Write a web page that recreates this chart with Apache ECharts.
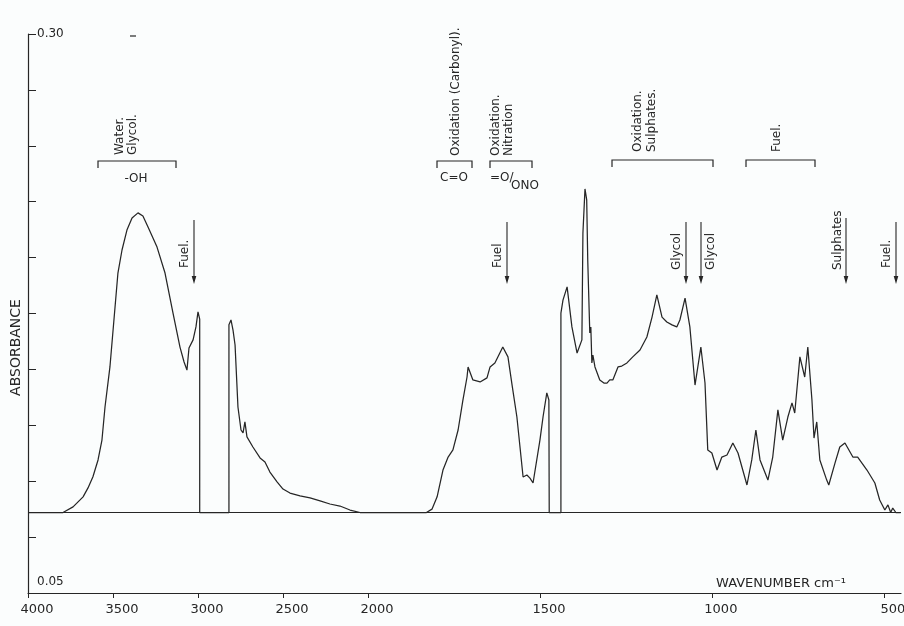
<!DOCTYPE html>
<html><head><meta charset="utf-8">
<script src="https://cdn.jsdelivr.net/npm/echarts@6/dist/echarts.min.js"></script>
<style>html,body{margin:0;padding:0;background:#fbfdfd}#c{width:904px;height:626px}</style>
</head><body><div id="c"></div>
<script>
// ---- data (wavenumber cm-1, absorbance) ----
const wavenumbers = [4000,3794,3735,3676,3647,3618,3588,3565,3547,3518,3488,3471,3447,3418,3388,3353,3324,3294,3241,3194,3147,3106,3082,3065,3053,3029,3012,3000,2990,2990,
  2818,2818,2806,2794,2782,2765,2747,2735,2724,2712,2677,2635,2606,2577,2535,2500,2459,2400,2341,2282,2224,2165,2106,2047,2000,
  1830,1814,1799,1782,1767,1753,1738,1724,1712,1709,1695,1674,1654,1645,1631,1608,1593,1581,1567,1549,1538,1529,1520,1500,1491,1480,1474,1473,
  1439,1439,1433,1421,1407,1392,1389,1378,1375,1369,1364,1361,1355,1352,1349,1346,1340,1326,1314,1305,1297,1288,1273,1262,1247,1230,1209,1189,1174,1160,
  1145,1131,1116,1102,1093,1078,1064,1049,1032,1020,1012,1000,985,971,956,939,924,898,884,872,860,837,823,808,794,779,767,759,744,730,721,709,703,695,686,
  666,660,642,628,613,590,576,549,526,512,497,488,480,474,465,451];
const absorbance = [0.086,0.086,0.0885,0.093,0.097,0.102,0.1095,0.1184,0.1332,0.1511,0.1779,0.1931,0.2034,0.2123,0.2177,0.220,0.2186,0.2137,0.2047,0.1931,0.1752,0.160,0.1533,0.1497,0.1596,0.1632,0.169,0.1757,0.1725,0.086,
  0.086,0.170,0.1721,0.1676,0.1609,0.1332,0.1229,0.1216,0.1265,0.1198,0.1153,0.1104,0.1086,0.1041,0.0997,0.0965,0.0947,0.0934,0.0925,0.0912,0.0898,0.0889,0.0871,0.086,0.086,
  0.086,0.0875,0.093,0.105,0.1108,0.114,0.1229,0.1363,0.1466,0.1511,0.1453,0.1444,0.1462,0.1511,0.1529,0.160,0.1556,0.143,0.1287,0.1019,0.1028,0.1014,0.0992,0.1184,0.1287,0.1395,0.1363,0.086,
  0.086,0.1752,0.181,0.1869,0.169,0.1573,0.1565,0.1632,0.211,0.2307,0.2258,0.199,0.1663,0.169,0.1529,0.1564,0.1511,0.1453,0.1439,0.1439,0.1453,0.1453,0.1511,0.1515,0.1529,0.1556,0.1587,0.1645,0.1734,0.1833,
  0.1734,0.1712,0.1699,0.169,0.1721,0.1819,0.169,0.143,0.160,0.1439,0.114,0.1126,0.105,0.1108,0.1117,0.1171,0.1126,0.0983,0.1095,0.1229,0.1095,0.1005,0.1108,0.1319,0.1184,0.1287,0.135,0.1305,0.1556,0.1466,0.160,0.1363,0.1193,0.1265,0.1095,
  0.1005,0.0983,0.1081,0.1153,0.1171,0.1108,0.1108,0.105,0.0992,0.0916,0.0871,0.0894,0.086,0.088,0.086,0.086];
const baselineAbs = 0.086;
const xTicksHigh = [4000, 3500, 3000, 2500, 2000];
const xTicksLow = [1500, 1000, 500];
const yTickLabels = ['0.30', '0.05'];

const FONT = 'DejaVu Sans';
const INK = '#262626';

const pairs = wavenumbers.map((w, i) => [w, absorbance[i]]);
const highData = pairs.filter(p => p[0] >= 2000);
const lowData = pairs.filter(p => p[0] <= 2000);

const xLabel = {
  fontFamily: FONT, fontSize: 13, color: INK, margin: 10,
  formatter: v => '{a|' + v + '}',
  rich: { a: { fontFamily: FONT, fontSize: 13, color: INK, padding: [0, 0, 0, 18] } }
};
const baseMark = {
  silent: true, symbol: 'none', animation: false, precision: 4,
  label: { show: false },
  lineStyle: { color: INK, width: 1.1, type: 'solid' },
  data: [{ yAxis: baselineAbs }]
};

function vtext(x, y, t) {
  return { type: 'text', x: x, y: y, rotation: Math.PI / 2,
    style: { text: t, fontFamily: FONT, fontSize: 12, fill: INK,
      align: 'left', verticalAlign: 'middle', textAlign: 'left', textVerticalAlign: 'middle' } };
}
function htext(x, y, t, al) {
  return { type: 'text', x: x, y: y,
    style: { text: t, fontFamily: FONT, fontSize: 12, fill: INK,
      align: al || 'center', verticalAlign: 'middle', textAlign: al || 'center', textVerticalAlign: 'middle' } };
}
function bracket(x1, x2, y) {
  return { type: 'polyline', shape: { points: [[x1, y + 7], [x1, y], [x2, y], [x2, y + 7]] },
    style: { stroke: INK, lineWidth: 1.2, fill: null } };
}
function arrow(x, y1, y2) {
  return [
    { type: 'line', shape: { x1: x, y1: y1, x2: x, y2: y2 - 5 }, style: { stroke: INK, lineWidth: 1.1 } },
    { type: 'polygon', shape: { points: [[x - 2.3, y2 - 8], [x + 2.3, y2 - 8], [x, y2]] }, style: { fill: INK } }
  ];
}

const graphics = [
  { type: 'line', shape: { x1: 130, y1: 36, x2: 136, y2: 36 }, style: { stroke: INK, lineWidth: 1.2 } },
  vtext(120, 155, 'Water.'), vtext(133, 155, 'Glycol.'), bracket(98, 176, 161), htext(136, 179, '-OH'),
  vtext(185, 268, 'Fuel.'), ...arrow(194, 220, 284),
  vtext(456, 156, 'Oxidation (Carbonyl).'), bracket(437, 472, 161), htext(454, 178, 'C=O'),
  vtext(496, 156, 'Oxidation.'), vtext(509, 156, 'Nitration'), bracket(490, 532, 161),
  htext(490, 178, '=O/', 'left'), htext(511, 186, 'ONO', 'left'),
  vtext(498, 268, 'Fuel'), ...arrow(507, 222, 284),
  vtext(638, 152, 'Oxidation.'), vtext(652, 152, 'Sulphates.'), bracket(612, 713, 160),
  vtext(777, 152, 'Fuel.'), bracket(746, 815, 160),
  vtext(677, 270, 'Glycol'), ...arrow(686, 222, 284),
  ...arrow(701, 222, 284), vtext(711, 270, 'Glycol'),
  vtext(838, 270, 'Sulphates'), ...arrow(846, 218, 284),
  vtext(887, 268, 'Fuel.'), ...arrow(896, 222, 284)
];

const chart = echarts.init(document.getElementById('c'), null, { renderer: 'canvas' });
chart.setOption({
  animation: false,
  backgroundColor: '#fbfdfd',
  title: { text: 'WAVENUMBER cm\u207B\u00B9', left: 716, top: 577, padding: 0,
    textStyle: { fontFamily: FONT, fontSize: 13, fontWeight: 'normal', color: INK } },
  grid: [
    { left: 28, top: 34, width: 340, height: 559, containLabel: false, outerBoundsMode: 'none' },
    { left: 368, top: 34, width: 533, height: 559, containLabel: false, outerBoundsMode: 'none' }
  ],
  xAxis: [
    { type: 'value', gridIndex: 0, min: 2000, max: 4000, interval: 500, inverse: true,
      axisLine: { show: true, onZero: false, lineStyle: { color: INK, width: 1.2 } },
      axisTick: { show: true, length: 5, lineStyle: { color: INK } },
      splitLine: { show: false },
      axisLabel: Object.assign({ showMinLabel: true, showMaxLabel: true }, xLabel) },
    { type: 'value', gridIndex: 1, min: 450, max: 2000, inverse: true,
      axisLine: { show: true, onZero: false, lineStyle: { color: INK, width: 1.2 } },
      axisTick: { show: true, length: 5, lineStyle: { color: INK }, customValues: xTicksLow },
      splitLine: { show: false },
      axisLabel: Object.assign({ customValues: xTicksLow }, xLabel) }
  ],
  yAxis: [
    { type: 'value', gridIndex: 0, min: 0.05, max: 0.30, interval: 0.025,
      name: 'ABSORBANCE', nameLocation: 'middle', nameRotate: 90, nameGap: 5,
      nameTextStyle: { fontFamily: FONT, fontSize: 14, color: INK, padding: [0, 68, 0, 0] },
      axisLine: { show: true, onZero: false, lineStyle: { color: INK, width: 1.2 } },
      axisTick: { show: true, inside: true, length: 8, lineStyle: { color: INK } },
      splitLine: { show: false },
      axisLabel: { inside: true, margin: 9, showMinLabel: true, showMaxLabel: true,
        formatter: v => Math.abs(v - 0.30) < 1e-6 ? '{t|' + yTickLabels[0] + '}' : (Math.abs(v - 0.05) < 1e-6 ? '{b|' + yTickLabels[1] + '}' : ''),
        rich: { t: { fontFamily: FONT, fontSize: 12, color: INK },
                b: { fontFamily: FONT, fontSize: 12, color: INK, padding: [0, 0, 22, 0] } } } },
    { type: 'value', gridIndex: 1, min: 0.05, max: 0.30, show: false }
  ],
  series: [
    { type: 'line', xAxisIndex: 0, yAxisIndex: 0, data: highData, showSymbol: false, symbol: 'none',
      lineStyle: { color: INK, width: 1.25 }, markLine: baseMark },
    { type: 'line', xAxisIndex: 1, yAxisIndex: 1, data: lowData, showSymbol: false, symbol: 'none',
      lineStyle: { color: INK, width: 1.25 }, markLine: baseMark }
  ],
  graphic: graphics
});
</script></body></html>
